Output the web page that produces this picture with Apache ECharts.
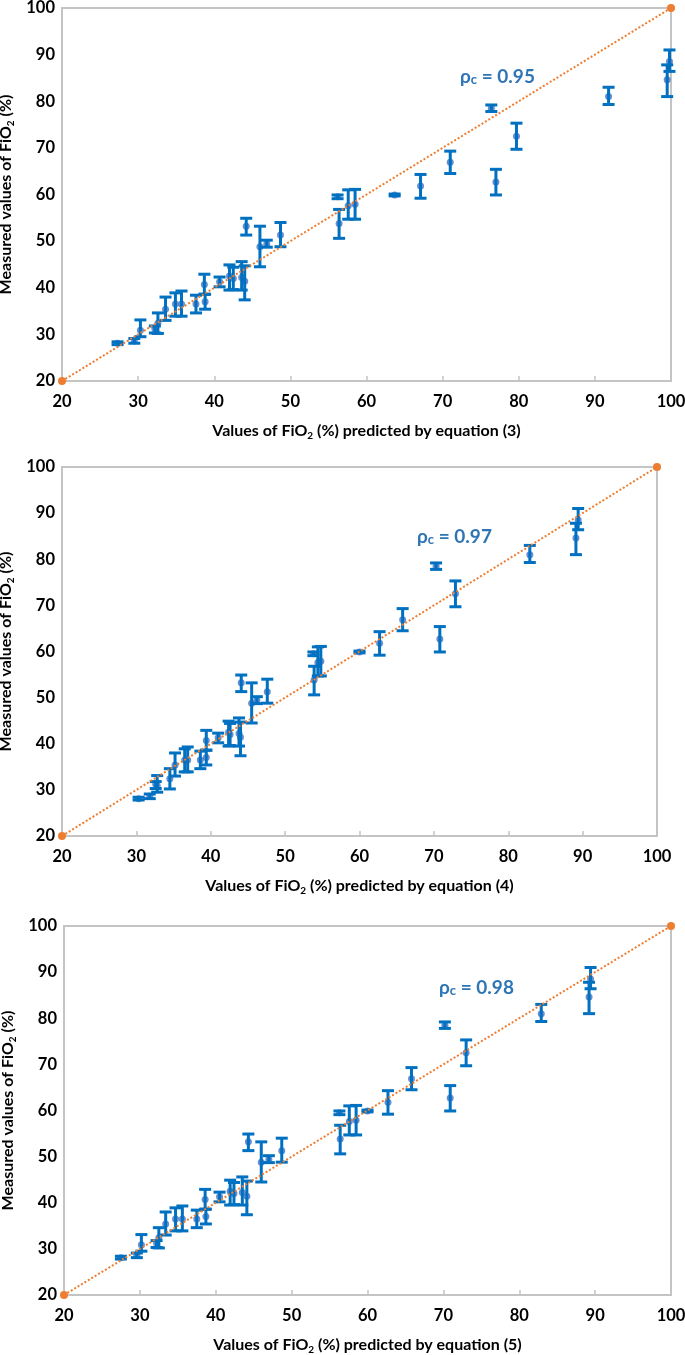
<!DOCTYPE html>
<html><head><meta charset="utf-8">
<script src="https://cdn.jsdelivr.net/npm/echarts@6/dist/echarts.min.js"></script>
<style>html,body{margin:0;padding:0;background:#fff}#chart{width:685px;height:1355px}</style>
</head><body><div id="chart"></div>
<script>
// Measured FiO2 (%) with error-bar limits
const measured = [28.1, 28.6, 30.9, 31.2, 32.4, 35.4, 36.5, 36.5, 36.5, 40.7, 37.0, 41.3, 42.5, 42.0, 42.2, 41.4, 53.2, 48.8, 49.4, 51.3, 59.5, 53.8, 57.6, 57.9, 59.9, 61.8, 66.9, 62.7, 78.5, 72.5, 81.0, 88.5, 84.6];
const errLow   = [27.8, 28.1, 29.5, 30.3, 30.2, 33.0, 33.9, 33.9, 34.6, 38.6, 35.4, 40.2, 39.5, 39.6, 39.5, 37.4, 51.3, 44.5, 48.7, 48.8, 59.1, 50.6, 54.7, 54.7, 59.7, 59.2, 64.5, 59.9, 77.8, 69.7, 79.3, 86.4, 81.0];
const errHigh  = [28.4, 29.1, 33.1, 31.8, 34.6, 38.0, 38.9, 39.3, 38.4, 42.9, 38.6, 42.3, 44.9, 44.4, 45.6, 44.7, 54.9, 53.2, 50.2, 54.0, 59.9, 56.8, 61.0, 61.1, 60.1, 64.3, 69.3, 65.4, 79.2, 75.3, 83.0, 91.0, 87.8];
// Predicted FiO2 (%) by equations (3), (4), (5)
const predEq3 = [27.3, 29.5, 30.3, 32.2, 32.6, 33.6, 34.9, 35.7, 37.6, 38.7, 38.8, 40.7, 42.0, 42.5, 43.6, 44.0, 44.2, 46.0, 46.9, 48.7, 56.2, 56.4, 57.6, 58.5, 63.7, 67.1, 71.0, 77.0, 76.4, 79.7, 91.8, 99.8, 99.5];
const predEq4 = [30.3, 31.8, 32.8, 32.6, 34.5, 35.2, 36.5, 36.9, 38.6, 39.4, 39.4, 41.0, 42.4, 42.6, 43.8, 44.0, 44.1, 45.5, 46.2, 47.6, 53.8, 53.9, 54.4, 54.8, 60.0, 62.7, 65.8, 70.8, 70.3, 72.9, 82.9, 89.4, 89.1];
const predEq5 = [27.5, 29.6, 30.2, 32.2, 32.5, 33.4, 34.7, 35.6, 37.5, 38.6, 38.7, 40.5, 41.9, 42.4, 43.5, 44.1, 44.3, 46.0, 47.0, 48.7, 56.3, 56.4, 57.6, 58.5, 60.0, 62.7, 65.8, 70.9, 70.2, 73.0, 82.9, 89.4, 89.2];
const rhoValues = ['0.95', '0.97', '0.98'];
const equationNumbers = ['3', '4', '5'];
const identityLine = [20, 100];
const axisMin = 20, axisMax = 100, axisStep = 10;

const predictions = [predEq3, predEq4, predEq5];
const layouts = [
  {left: 62, right: 14, top: 8, height: 373, annX: 460, annY: 79},
  {left: 62, right: 28, top: 467, height: 369, annX: 417, annY: 539},
  {left: 64, right: 14, top: 926, height: 369, annX: 439, annY: 990}
];
const FONT = 'Lato, "Open Sans", sans-serif';
const gridColor = '#C4C4C4';

const grid = [], xAxis = [], yAxis = [], series = [], graphic = [];
layouts.forEach((L, i) => {
  grid.push({left: L.left, right: L.right, top: L.top, height: L.height, show: true,
    containLabel: false, outerBoundsMode: 'none',
    borderColor: gridColor, borderWidth: 2, backgroundColor: 'transparent'});
  xAxis.push({gridIndex: i, type: 'value', min: axisMin, max: axisMax, interval: axisStep,
    splitLine: {show: false},
    axisLine: {show: true, onZero: false, lineStyle: {color: gridColor, width: 2}},
    axisTick: {show: true, inside: true, length: 5, lineStyle: {color: gridColor, width: 1.5}},
    axisLabel: {fontFamily: FONT, fontWeight: 'bold', fontSize: 16.5, color: '#000', margin: 12},
    name: '{a|Values of FiO}{s|2}{a| (%) predicted by equation (' + equationNumbers[i] + ')}',
    nameLocation: 'middle', nameGap: 40,
    nameTextStyle: {rich: {
      a: {fontFamily: FONT, fontWeight: 'bold', fontSize: 16, color: '#000', lineHeight: 20},
      s: {fontFamily: FONT, fontWeight: 'bold', fontSize: 10, color: '#000', lineHeight: 20, verticalAlign: 'bottom'}
    }}
  });
  yAxis.push({gridIndex: i, type: 'value', min: axisMin, max: axisMax, interval: axisStep,
    splitLine: {show: false},
    axisLine: {show: true, onZero: false, lineStyle: {color: gridColor, width: 2}},
    axisTick: {show: false},
    axisLabel: {fontFamily: FONT, fontWeight: 'bold', fontSize: 16.5, color: '#000', margin: 7},
    name: '{a|Measured values of FiO}{s|2}{a| (%)}',
    nameLocation: 'middle', nameGap: 45, nameRotate: 90,
    nameTextStyle: {rich: {
      a: {fontFamily: FONT, fontWeight: 'bold', fontSize: 16, color: '#000', lineHeight: 20},
      s: {fontFamily: FONT, fontWeight: 'bold', fontSize: 10, color: '#000', lineHeight: 20, verticalAlign: 'bottom'}
    }}
  });
  const pred = predictions[i];
  series.push({type: 'scatter', xAxisIndex: i, yAxisIndex: i, z: 2,
    symbol: 'circle', symbolSize: 7, itemStyle: {color: '#4472C4'},
    data: pred.map((x, k) => [x, measured[k]])});
  series.push({type: 'custom', xAxisIndex: i, yAxisIndex: i, z: 3,
    encode: {x: 0, y: [1, 2]},
    data: pred.map((x, k) => [x, errLow[k], errHigh[k]]),
    renderItem: function (params, api) {
      const x = api.value(0), lo = api.value(1), hi = api.value(2);
      const a = api.coord([x, lo]), b = api.coord([x, hi]);
      const w = 6, st = {stroke: '#0070C0', lineWidth: 3};
      return {type: 'group', children: [
        {type: 'line', shape: {x1: a[0], y1: a[1], x2: b[0], y2: b[1]}, style: st},
        {type: 'line', shape: {x1: a[0] - w, y1: a[1], x2: a[0] + w, y2: a[1]}, style: st},
        {type: 'line', shape: {x1: b[0] - w, y1: b[1], x2: b[0] + w, y2: b[1]}, style: st}
      ]};
    }
  });
  series.push({type: 'line', xAxisIndex: i, yAxisIndex: i, z: 4,
    symbol: 'circle', symbolSize: 8, showSymbol: true,
    itemStyle: {color: '#ED7D31'},
    lineStyle: {color: '#ED7D31', width: 2, type: 'dotted'},
    data: identityLine.map(v => [v, v])});
  graphic.push({type: 'text', left: L.annX, top: L.annY - 12, z: 10,
    style: {
      text: '{r|ρ}{c|c}{r| = ' + rhoValues[i] + '}',
      rich: {
        r: {fontFamily: FONT, fontWeight: 'bold', fontSize: 19, fill: '#2E75B6', lineHeight: 24},
        c: {fontFamily: FONT, fontWeight: 'bold', fontSize: 13, fill: '#2E75B6', lineHeight: 24, verticalAlign: 'bottom', padding: [0, 0, 2, 0]}
      }
    }});
});

const chart = echarts.init(document.getElementById('chart'), null, {renderer: 'canvas'});
chart.setOption({animation: false, backgroundColor: '#fff', grid, xAxis, yAxis, series, graphic});
</script>
</body></html>
